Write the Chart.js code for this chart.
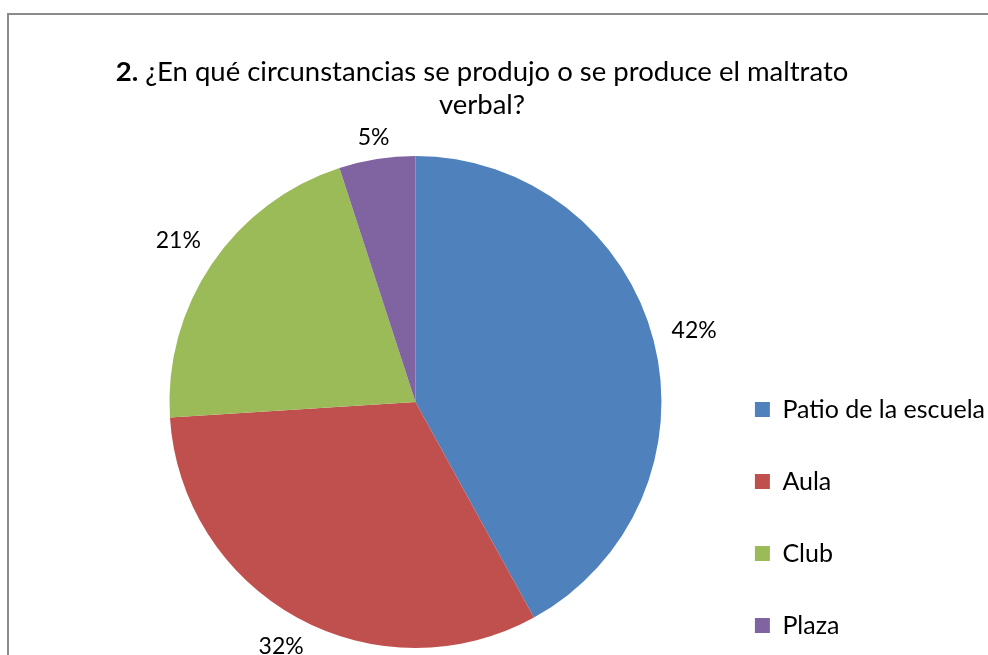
<!DOCTYPE html>
<html>
<head>
<meta charset="utf-8">
<script src="https://cdn.jsdelivr.net/npm/chart.js@4/dist/chart.umd.min.js"></script>
<style>
html,body{margin:0;padding:0;background:#fff;}
#wrap{position:relative;width:988px;height:655px;overflow:hidden;}
#frame{position:absolute;left:7px;top:13px;width:1000px;height:700px;border-top:2px solid #8c8c8c;border-left:2px solid #8c8c8c;box-sizing:border-box;}
canvas{position:absolute;left:0;top:0;}
</style>
</head>
<body>
<div id="wrap">
<div id="frame"></div>
<canvas id="c" width="988" height="700"></canvas>
</div>
<script>
const categories = ["Patio de la escuela", "Aula", "Club", "Plaza"];
const values = [42, 32, 21, 5];
const colors = ["#4F81BD", "#C0504D", "#9BBB59", "#8064A2"];
const titleBold = "2.";
const titleLine1 = " ¿En qué circunstancias se produjo o se produce el maltrato";
const titleLine2 = "verbal?";
const FONT = "Lato, 'Open Sans', sans-serif";

const titlePlugin = {
  id: 'mixedTitle',
  afterDraw(chart) {
    const ctx = chart.ctx;
    ctx.save();
    ctx.fillStyle = '#000';
    ctx.textBaseline = 'middle';
    ctx.textAlign = 'left';
    const bf = "bold 27.5px " + FONT, rf = "27.5px " + FONT;
    ctx.font = bf; const wb = ctx.measureText(titleBold).width;
    ctx.font = rf; const wr = ctx.measureText(titleLine1).width;
    const cx = 482;
    let x = cx - (wb + wr) / 2;
    ctx.font = bf; ctx.fillText(titleBold, x, 72);
    ctx.font = rf; ctx.fillText(titleLine1, x + wb, 72);
    ctx.textAlign = 'center';
    ctx.fillText(titleLine2, cx, 105);
    ctx.restore();
  }
};

const labelPlugin = {
  id: 'outLabels',
  afterDatasetsDraw(chart) {
    const ctx = chart.ctx;
    const meta = chart.getDatasetMeta(0);
    const total = values.reduce((a, b) => a + b, 0);
    ctx.save();
    ctx.font = "23px " + FONT;
    ctx.fillStyle = '#000';
    ctx.textAlign = 'center';
    ctx.textBaseline = 'middle';
    meta.data.forEach((arc, i) => {
      const p = arc.getProps(['x', 'y', 'startAngle', 'endAngle', 'outerRadius'], true);
      const mid = (p.startAngle + p.endAngle) / 2;
      const txt = Math.round(values[i] / total * 100) + '%';
      const w = ctx.measureText(txt).width, h = 20;
      const dx = Math.cos(mid), dy = Math.sin(mid);
      const off = 6 + Math.abs(dx) * w * 0.75 + Math.abs(dy) * h * 0.6;
      const r = p.outerRadius + off;
      ctx.fillText(txt, p.x + dx * r, p.y + dy * r);
    });
    ctx.restore();
  }
};

new Chart(document.getElementById('c'), {
  type: 'pie',
  data: {
    labels: categories,
    datasets: [{ data: values, backgroundColor: colors, borderWidth: 0, radius: 246 }]
  },
  options: {
    responsive: false,
    animation: false,
    layout: { padding: { top: 0, bottom: 0, left: 123, right: -7 } },
    plugins: {
      title: { display: true, position: 'top', fullSize: false, text: ' ', font: { size: 10 }, padding: { top: 0, bottom: 137 } },
      subtitle: { display: true, position: 'bottom', fullSize: false, text: ' ', font: { size: 10 }, padding: { top: 33, bottom: 0 } },
      tooltip: { enabled: false },
      legend: {
        position: 'right',
        align: 'start',
        title: { display: true, text: ' ', font: { size: 10 }, padding: { top: 0, bottom: 338 } },
        labels: {
          color: '#000',
          font: { family: FONT, size: 25 },
          boxWidth: 15,
          boxHeight: 15,
          padding: 47
        }
      }
    }
  },
  plugins: [titlePlugin, labelPlugin]
});
</script>
</body>
</html>
